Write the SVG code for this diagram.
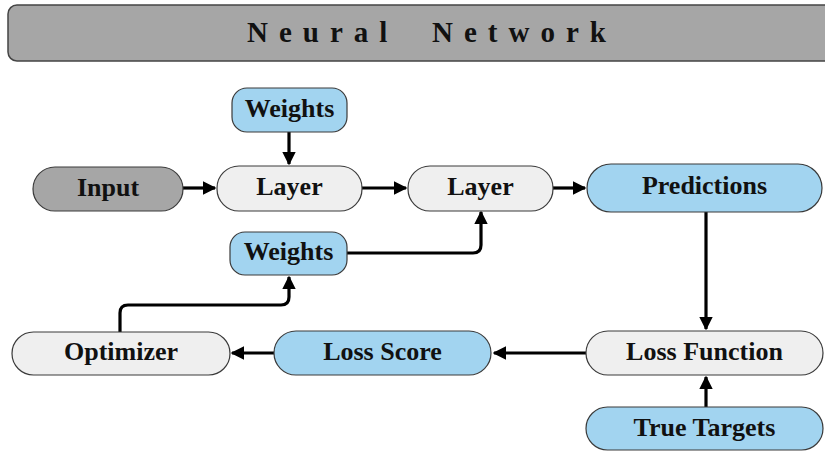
<svg xmlns="http://www.w3.org/2000/svg" width="825" height="451" viewBox="0 0 825 451">
  <style>
    .node { stroke: #3a3a3a; stroke-width: 1.2; }
    .blue { fill: #a2d4f0; }
    .light { fill: #efefef; }
    .dark { fill: #a6a6a6; }
    .label { font-family: "Liberation Serif", "Times New Roman", serif; font-weight: bold; font-size: 26px; fill: #111; text-anchor: middle; }
    .title { font-family: "Liberation Serif", "Times New Roman", serif; font-weight: bold; font-size: 29px; fill: #111; letter-spacing: 11px; }
    .edge { fill: none; stroke: #000; stroke-width: 3.2; stroke-linejoin: round; }
  </style>
  <defs>
    <marker id="arrow" viewBox="0 0 10 10" refX="9" refY="5" markerWidth="4.2" markerHeight="4.2" orient="auto" markerUnits="strokeWidth">
      <path d="M0,0 L10,5 L0,10 z" fill="#000"/>
    </marker>
  </defs>

  <rect width="825" height="451" fill="#ffffff"/>

  <!-- header bar -->
  <g id="header">
    <rect x="8" y="5" width="840" height="56" rx="9" fill="#a6a6a6" stroke="#444" stroke-width="1.5"/>
    <text class="title" x="247" y="42">Neural<tspan x="432">Network</tspan></text>
  </g>

  <!-- connectors -->
  <g id="connectors">
    <path class="edge" d="M289,132 L289,164" marker-end="url(#arrow)"/>
    <path class="edge" d="M183,188 L215,188" marker-end="url(#arrow)"/>
    <path class="edge" d="M362,188 L406,188" marker-end="url(#arrow)"/>
    <path class="edge" d="M553,188 L585,188" marker-end="url(#arrow)"/>
    <path class="edge" d="M706,212 L706,329" marker-end="url(#arrow)"/>
    <path class="edge" d="M347,253 L473,253 Q481,253 481,245 L481,212" marker-end="url(#arrow)"/>
    <path class="edge" d="M120,332 L120,313 Q120,305 128,305 L281,305 Q289,305 289,297 L289,277" marker-end="url(#arrow)"/>
    <path class="edge" d="M586,353 L494,353" marker-end="url(#arrow)"/>
    <path class="edge" d="M274,353 L232,353" marker-end="url(#arrow)"/>
    <path class="edge" d="M706,407 L706,377" marker-end="url(#arrow)"/>
  </g>

  <g id="weights-top">
    <rect class="node blue" x="232" y="88" width="115" height="44" rx="15"/>
    <text class="label" x="289.5" y="117">Weights</text>
  </g>
  <g id="input">
    <rect class="node dark" x="33" y="167" width="150" height="44" rx="22"/>
    <text class="label" x="108" y="196">Input</text>
  </g>
  <g id="layer-1">
    <rect class="node light" x="217" y="166" width="145" height="45" rx="22"/>
    <text class="label" x="289.5" y="195">Layer</text>
  </g>
  <g id="layer-2">
    <rect class="node light" x="408" y="166" width="145" height="45" rx="22"/>
    <text class="label" x="480.5" y="195">Layer</text>
  </g>
  <g id="predictions">
    <rect class="node blue" x="587" y="164" width="235" height="48" rx="24"/>
    <text class="label" x="704.5" y="194">Predictions</text>
  </g>
  <g id="weights-bottom">
    <rect class="node blue" x="230" y="232" width="117" height="43" rx="15"/>
    <text class="label" x="288.5" y="260">Weights</text>
  </g>
  <g id="optimizer">
    <rect class="node light" x="12" y="332" width="218" height="43" rx="21.5"/>
    <text class="label" x="121" y="360">Optimizer</text>
  </g>
  <g id="loss-score">
    <rect class="node blue" x="274" y="331" width="217" height="44" rx="22"/>
    <text class="label" x="382.5" y="360">Loss Score</text>
  </g>
  <g id="loss-function">
    <rect class="node light" x="586" y="331" width="237" height="44" rx="22"/>
    <text class="label" x="704.5" y="360">Loss Function</text>
  </g>
  <g id="true-targets">
    <rect class="node blue" x="586" y="407" width="237" height="43" rx="21.5"/>
    <text class="label" x="704.5" y="436">True Targets</text>
  </g>
</svg>
